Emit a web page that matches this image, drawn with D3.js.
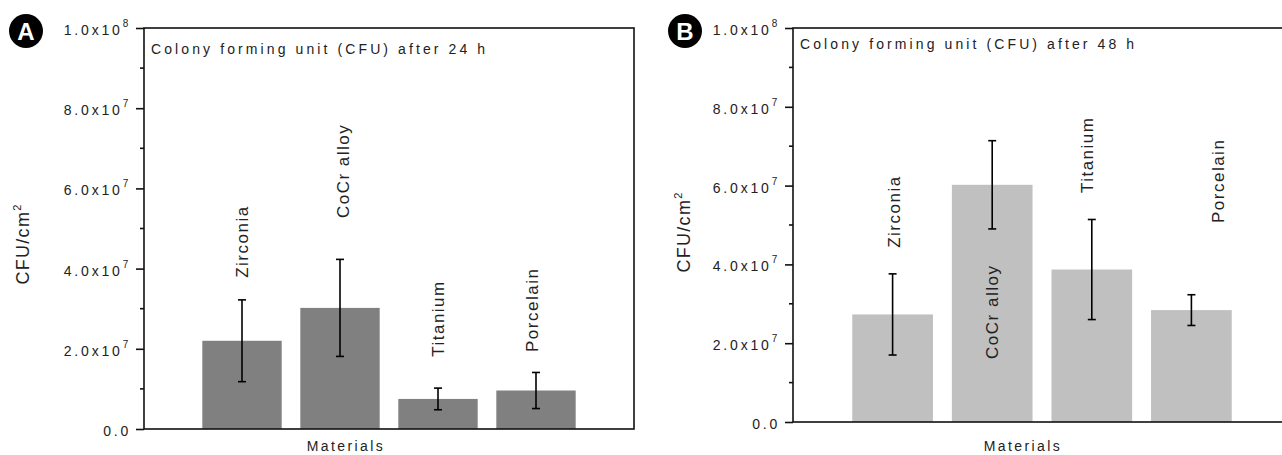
<!DOCTYPE html>
<html>
<head>
<meta charset="utf-8">
<script src="https://cdn.jsdelivr.net/npm/d3@7"></script>
<style>
  body { margin: 0; background: #fff; }
  svg { display: block; }
  text { font-family: Arial, "Liberation Sans", sans-serif; fill: #222; }
</style>
</head>
<body>
<svg id="svg" width="1282" height="455"></svg>
<script>
// materials on the x axis, plotted at positions 1..4
let materials = ["Zirconia", "CoCr alloy", "Titanium", "Porcelain"];
let cfu24 = [2.2e7, 3.02e7, 0.75e7, 0.96e7];
let err24 = [1.02e7, 1.21e7, 0.27e7, 0.45e7];
let cfu48 = [2.73e7, 6.02e7, 3.87e7, 2.84e7];
let err48 = [1.03e7, 1.12e7, 1.27e7, 0.39e7];
// where the rotated material names sit (x in category units, y = start of text in CFU)
let labelX24 = [1.0, 2.03, 3.0, 3.96];
let labelY24 = [3.77e7, 5.26e7, 1.8e7, 1.92e7];
let labelX48 = [1.01, 2.0, 2.95, 4.27];
let labelY48 = [4.42e7, 1.6e7, 5.81e7, 5.05e7];
let yTicks = [0, 2e7, 4e7, 6e7, 8e7, 1e8];
let yMinor = [1e7, 3e7, 5e7, 7e7, 9e7];
let tickBase = ["0.0", "2.0x10", "4.0x10", "6.0x10", "8.0x10", "1.0x10"];
let tickExp = ["", "7", "7", "7", "7", "8"];

let svg = d3.select("#svg");

const drawPanel = function(p) {
  let x = d3.scaleLinear().domain([0, 5]).range([p.left, p.right]);
  let y = d3.scaleLinear().domain([0, 1e8]).range([p.bottom, p.top]);
  let g = svg.append("g");
  let barW = (x(1) - x(0)) * 0.81;

  // bars
  g.selectAll(".bar")
    .data(p.values)
    .enter().append("rect")
    .attr("x", (d, i) => x(i + 1) - barW / 2)
    .attr("y", d => y(d))
    .attr("width", barW)
    .attr("height", d => y(0) - y(d))
    .attr("fill", p.color);

  // error bars
  let eb = g.selectAll(".err")
    .data(p.values)
    .enter().append("g")
    .attr("stroke", "#000")
    .attr("stroke-width", 1.6);
  eb.append("line")
    .attr("x1", (d, i) => x(i + 1)).attr("x2", (d, i) => x(i + 1))
    .attr("y1", (d, i) => y(d + p.errs[i])).attr("y2", (d, i) => y(d - p.errs[i]));
  eb.append("line")
    .attr("x1", (d, i) => x(i + 1) - 4).attr("x2", (d, i) => x(i + 1) + 4)
    .attr("y1", (d, i) => y(d + p.errs[i])).attr("y2", (d, i) => y(d + p.errs[i]));
  eb.append("line")
    .attr("x1", (d, i) => x(i + 1) - 4).attr("x2", (d, i) => x(i + 1) + 4)
    .attr("y1", (d, i) => y(d - p.errs[i])).attr("y2", (d, i) => y(d - p.errs[i]));

  // frame
  g.append("rect")
    .attr("x", p.left).attr("y", p.top)
    .attr("width", p.right - p.left).attr("height", p.bottom - p.top)
    .attr("fill", "none").attr("stroke", "#111").attr("stroke-width", 1.6);

  // y axis with outward ticks
  let ax = g.append("g").attr("transform", "translate(" + p.left + ",0)");
  ax.call(d3.axisLeft(y).tickValues(yTicks).tickSize(8).tickFormat(""));
  ax.call(g2 => g2.select(".domain").remove());
  ax.selectAll("line").attr("stroke", "#111").attr("stroke-width", 1.6);
  yMinor.forEach(v => {
    ax.append("line").attr("x1", -4).attr("x2", 0)
      .attr("y1", y(v)).attr("y2", y(v))
      .attr("stroke", "#111").attr("stroke-width", 1.6);
  });

  let tl = g.selectAll(".tl")
    .data(yTicks)
    .enter().append("text")
    .attr("x", p.left - 13)
    .attr("y", d => y(d) + 7)
    .attr("text-anchor", "end")
    .style("font-size", "14px")
    .style("letter-spacing", "2.8px");
  tl.append("tspan").text((d, i) => tickBase[i]);
  tl.append("tspan")
    .attr("dy", -8)
    .style("font-size", "10px")
    .text((d, i) => tickExp[i]);

  // rotated material names
  g.selectAll(".lab")
    .data(materials)
    .enter().append("text")
    .attr("transform", (d, i) => "translate(" + x(p.labelX[i]) + "," + y(p.labelY[i]) + ") rotate(-90)")
    .attr("dy", "0.36em")
    .style("font-size", "17px")
    .style("letter-spacing", "1.5px")
    .text(d => d);

  // in-plot caption
  g.append("text")
    .attr("x", p.left + 7).attr("y", p.top + p.capDy)
    .style("font-size", "14px")
    .style("letter-spacing", "3.1px")
    .text(p.caption);

  // axis titles
  g.append("text")
    .attr("x", p.xTitle).attr("y", 451)
    .attr("text-anchor", "middle")
    .style("font-size", "14px")
    .style("letter-spacing", "2.4px")
    .text("Materials");

  let yt = g.append("text")
    .attr("transform", "translate(" + p.yTitle[0] + "," + p.yTitle[1] + ") rotate(-90)")
    .attr("text-anchor", "middle")
    .attr("dy", "0.36em")
    .style("font-size", "18px")
    .style("letter-spacing", "1.3px");
  yt.append("tspan").text("CFU/cm");
  yt.append("tspan").attr("dy", -8).style("font-size", "11px").text("2");

  // panel badge
  g.append("circle")
    .attr("cx", p.badge[0]).attr("cy", p.badge[1]).attr("r", 17)
    .attr("fill", "#000");
  g.append("text")
    .attr("x", p.badge[0]).attr("y", p.badge[1])
    .attr("dy", "0.36em")
    .attr("text-anchor", "middle")
    .style("font-size", "24px")
    .style("font-weight", "bold")
    .style("fill", "#fff")
    .text(p.letter);
};

drawPanel({
  left: 144, right: 634, top: 28, bottom: 429,
  values: cfu24, errs: err24, labelX: labelX24, labelY: labelY24,
  color: "#808080", caption: "Colony forming unit (CFU) after 24 h", capDy: 26,
  xTitle: 346, yTitle: [23, 244], badge: [26, 31], letter: "A"
});

drawPanel({
  left: 793, right: 1291, top: 28, bottom: 422,
  values: cfu48, errs: err48, labelX: labelX48, labelY: labelY48,
  color: "#c0c0c0", caption: "Colony forming unit (CFU) after 48 h", capDy: 21,
  xTitle: 1023, yTitle: [684, 232], badge: [685, 31], letter: "B"
});
</script>
</body>
</html>
